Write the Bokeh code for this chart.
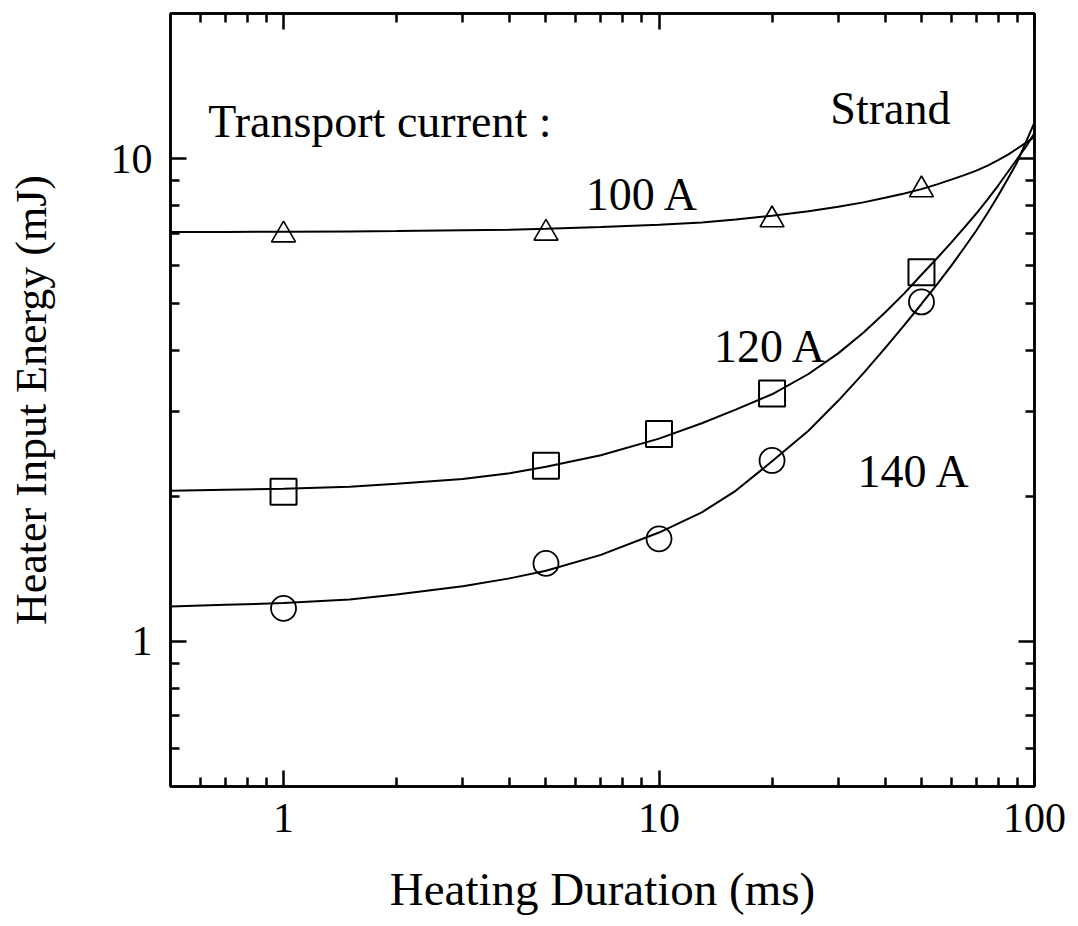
from bokeh.plotting import figure
from bokeh.models import LogAxis, FixedTicker, CustomJSTickFormatter, Label
from bokeh.embed import file_html
from bokeh.resources import INLINE

# ---------------- data ----------------
# measured points: heating duration (ms) -> heater input energy (mJ)
dur_100A = [1, 5, 20, 50]
energy_100A = [6.95, 7.01, 7.47, 8.62]

dur_120A = [1, 5, 10, 20, 50]
energy_120A = [2.04, 2.31, 2.69, 3.26, 5.82]

dur_140A = [1, 5, 10, 20, 50]
energy_140A = [1.17, 1.45, 1.63, 2.37, 5.05]

# fitted curves
curve_dur = [0.5, 0.7, 1, 1.5, 2, 3, 4, 5, 7, 10, 13, 16, 20, 25, 30, 35, 40, 45,
             50, 55, 60, 65, 70, 75, 80, 85, 90, 95, 100]
curve_100A = [7.05, 7.05, 7.06, 7.07, 7.08, 7.11, 7.13, 7.16, 7.22, 7.30, 7.38, 7.48, 7.62, 7.78,
              7.95, 8.12, 8.30, 8.47, 8.65, 8.85, 9.05, 9.25, 9.45, 9.68, 9.93, 10.2, 10.5, 10.8, 11.1]
curve_120A = [2.05, 2.06, 2.07, 2.09, 2.12, 2.17, 2.23, 2.30, 2.43, 2.63, 2.83, 3.02, 3.25, 3.58,
              3.95, 4.36, 4.80, 5.26, 5.75, 6.22, 6.70, 7.20, 7.70, 8.24, 8.80, 9.40, 10.0, 10.6, 11.3]
curve_140A = [1.18, 1.19, 1.20, 1.22, 1.25, 1.30, 1.35, 1.40, 1.51, 1.68, 1.85, 2.05, 2.36, 2.73,
              3.15, 3.59, 4.05, 4.52, 5.00, 5.49, 6.00, 6.54, 7.10, 7.72, 8.38, 9.10, 9.85, 10.85, 11.9]

# axes
x_major_ticks = [1, 10, 100]
x_minor_ticks = [0.6, 0.7, 0.8, 0.9, 2, 3, 4, 5, 6, 7, 8, 9, 20, 30, 40, 50, 60, 70, 80, 90]
y_major_ticks = [1, 10]
y_minor_ticks = [0.6, 0.7, 0.8, 0.9, 2, 3, 4, 5, 6, 7, 8, 9]
x_title = "Heating Duration (ms)"
y_title = "Heater Input Energy (mJ)"

# annotations
texts = ["Transport current :", "Strand", "100 A", "120 A", "140 A"]
text_x = [0.63, 28.6, 6.38, 14.0, 33.8]
text_y = [11.95, 12.73, 8.43, 4.09, 2.25]

# ---------------- styling / drawing ----------------
FONT = "Liberation Serif"

p = figure(width=1078, height=926, x_axis_type="log", y_axis_type="log",
           x_range=(0.5, 100), y_range=(0.5, 20),
           output_backend="svg", toolbar_location=None,
           min_border_left=170, min_border_right=44,
           min_border_top=13, min_border_bottom=140)
p.xgrid.visible = False
p.ygrid.visible = False
p.background_fill_color = "white"
p.border_fill_color = "white"
p.outline_line_color = "black"
p.outline_line_width = 2.5

bottom_axis = p.below[0]
left_axis = p.left[0]
top_axis = LogAxis()
right_axis = LogAxis()
p.add_layout(top_axis, "above")
p.add_layout(right_axis, "right")


def style_axis(ax, major, minor, show_labels):
    ax.ticker = FixedTicker(ticks=major, minor_ticks=minor)
    ax.axis_line_color = "black"
    ax.axis_line_width = 2.5
    ax.major_tick_line_color = "black"
    ax.major_tick_line_width = 2.5
    ax.minor_tick_line_color = "black"
    ax.minor_tick_line_width = 2.5
    ax.major_tick_in = 16
    ax.major_tick_out = 0
    ax.minor_tick_in = 9
    ax.minor_tick_out = 0
    if show_labels:
        ax.formatter = CustomJSTickFormatter(code="return tick.toString()")
        ax.major_label_text_font = FONT
        ax.major_label_text_font_size = "42px"
        ax.major_label_text_color = "black"
    else:
        ax.formatter = CustomJSTickFormatter(code="return ''")
        ax.major_label_text_font_size = "1px"
        ax.major_label_standoff = 0


style_axis(bottom_axis, x_major_ticks, x_minor_ticks, True)
style_axis(top_axis, x_major_ticks, x_minor_ticks, False)
style_axis(left_axis, y_major_ticks, y_minor_ticks, True)
style_axis(right_axis, y_major_ticks, y_minor_ticks, False)

bottom_axis.major_label_standoff = 17
bottom_axis.axis_label = x_title
bottom_axis.axis_label_text_font = FONT
bottom_axis.axis_label_text_font_size = "47px"
bottom_axis.axis_label_text_font_style = "normal"
bottom_axis.axis_label_text_color = "black"
bottom_axis.axis_label_standoff = 28

left_axis.major_label_standoff = 18
left_axis.axis_label = y_title
left_axis.axis_label_text_font = FONT
left_axis.axis_label_text_font_size = "44px"
left_axis.axis_label_text_font_style = "normal"
left_axis.axis_label_text_color = "black"
left_axis.axis_label_standoff = 52

line_kw = dict(line_color="black", line_width=2)
p.line(curve_dur, curve_100A, **line_kw)
p.line(curve_dur, curve_120A, **line_kw)
p.line(curve_dur, curve_140A, **line_kw)

p.scatter(dur_100A, energy_100A, marker="triangle", size=24,
          fill_color=None, line_color="black", line_width=1.6)
p.scatter(dur_120A, energy_120A, marker="square", size=26,
          fill_color=None, line_color="black", line_width=2)
p.scatter(dur_140A, energy_140A, marker="circle", size=25,
          fill_color=None, line_color="black", line_width=1.8)

for t, tx, ty in zip(texts, text_x, text_y):
    p.add_layout(Label(x=tx, y=ty, text=t, text_font=FONT,
                       text_font_size="46px", text_color="black",
                       text_align="left", text_baseline="alphabetic"))

open("out.html", "w").write(file_html(p, INLINE))
